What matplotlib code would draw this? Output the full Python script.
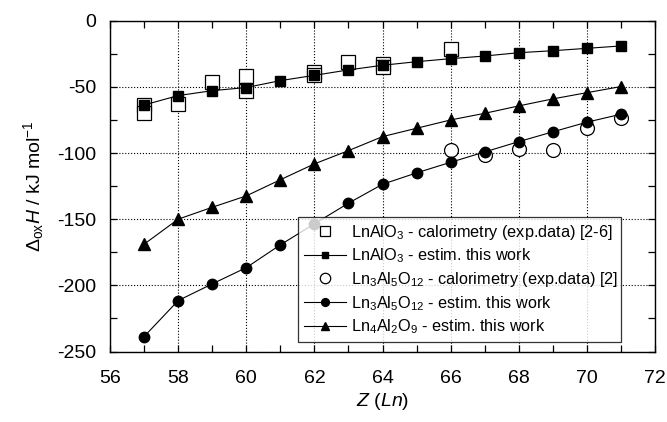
import matplotlib
matplotlib.use("Agg")
import matplotlib.pyplot as plt
from matplotlib.ticker import MultipleLocator

plt.rcParams['font.family'] = ['Liberation Sans', 'DejaVu Sans']
plt.rcParams['mathtext.fontset'] = 'custom'
plt.rcParams['mathtext.rm'] = 'Liberation Sans'
plt.rcParams['mathtext.it'] = 'Liberation Sans:italic'
plt.rcParams['axes.unicode_minus'] = False

# data
z_est = [57, 58, 59, 60, 61, 62, 63, 64, 65, 66, 67, 68, 69, 70, 71]
lnalo3_est = [-63.7, -56.6, -52.9, -50.5, -45.3, -41.3, -37.2, -33.7, -31.0,
              -28.7, -26.7, -24.2, -22.7, -20.9, -19.1]
ln3al5o12_est = [-238.7, -211.5, -198.9, -186.6, -169.4, -153.5, -137.9, -123.6,
                 -115.0, -107.0, -99.2, -91.4, -84.0, -76.7, -70.7]
ln4al2o9_est = [-168.9, -150.0, -141.0, -132.4, -120.2, -108.2, -98.2, -87.6,
                -81.3, -75.0, -70.0, -64.4, -59.1, -54.4, -49.8]

z_lnalo3_exp = [57, 57, 58, 59, 60, 60, 62, 62, 63, 64, 64, 66]
lnalo3_exp = [-63.5, -70.0, -62.9, -46.3, -41.8, -52.9, -38.5, -41.0, -31.0,
              -33.0, -35.0, -21.6]

z_ln3_exp = [66, 67, 68, 69, 70, 71]
ln3_exp = [-97.7, -101.4, -96.9, -97.7, -80.8, -73.3]

fig = plt.figure(figsize=(6.67, 4.22), dpi=100)
ax = fig.add_axes([0.165, 0.167, 0.817, 0.784])

ax.plot(z_lnalo3_exp, lnalo3_exp, ls='none', marker='s', ms=10, mfc='white',
        mec='black', mew=0.9, label=r'LnAlO$_3$ - calorimetry (exp.data) [2-6]', zorder=3)
ax.plot(z_est, lnalo3_est, color='black', lw=0.8, marker='s', ms=6.5,
        label=r'LnAlO$_3$ - estim. this work', zorder=4)
ax.plot(z_ln3_exp, ln3_exp, ls='none', marker='o', ms=10, mfc='white',
        mec='black', mew=0.9, label=r'Ln$_3$Al$_5$O$_{12}$ - calorimetry (exp.data) [2]', zorder=3)
ax.plot(z_est, ln3al5o12_est, color='black', lw=0.8, marker='o', ms=7.5,
        label=r'Ln$_3$Al$_5$O$_{12}$ - estim. this work', zorder=4)
ax.plot(z_est, ln4al2o9_est, color='black', lw=0.8, marker='^', ms=8.5,
        label=r'Ln$_4$Al$_2$O$_9$ - estim. this work', zorder=4)

ax.set_xlim(56, 72)
ax.set_ylim(-250, 0)
ax.xaxis.set_major_locator(MultipleLocator(2))
ax.xaxis.set_minor_locator(MultipleLocator(1))
ax.yaxis.set_major_locator(MultipleLocator(50))
ax.yaxis.set_minor_locator(MultipleLocator(25))
ax.tick_params(which='both', direction='in', top=True, right=True,
               labelsize=14, width=0.9, length=5)
ax.tick_params(axis='x', which='major', pad=13.5)
ax.tick_params(axis='y', which='major', pad=10)
ax.grid(True, which='major', ls=':', lw=0.8, color='black')
for s in ax.spines.values():
    s.set_linewidth(1.0)

ax.set_xlabel(r'$Z$ ($Ln$)', fontsize=14, labelpad=3)
ax.set_ylabel(r'$\Delta_{\mathrm{ox}}H$ / kJ mol$^{\mathrm{-1}}$', fontsize=14, labelpad=8)

leg = ax.legend(loc='lower left', bbox_to_anchor=(0.345, 0.029, 0.593, 0.37),
                mode='expand', fontsize=11.7, frameon=True, fancybox=False,
                edgecolor='black', handlelength=2.6, handletextpad=0.3,
                borderpad=0.35, labelspacing=0.3, markerscale=0.75,
                borderaxespad=0)
leg.get_frame().set_linewidth(0.9)
leg.set_zorder(5)

fig.savefig('out.png', dpi=100)
